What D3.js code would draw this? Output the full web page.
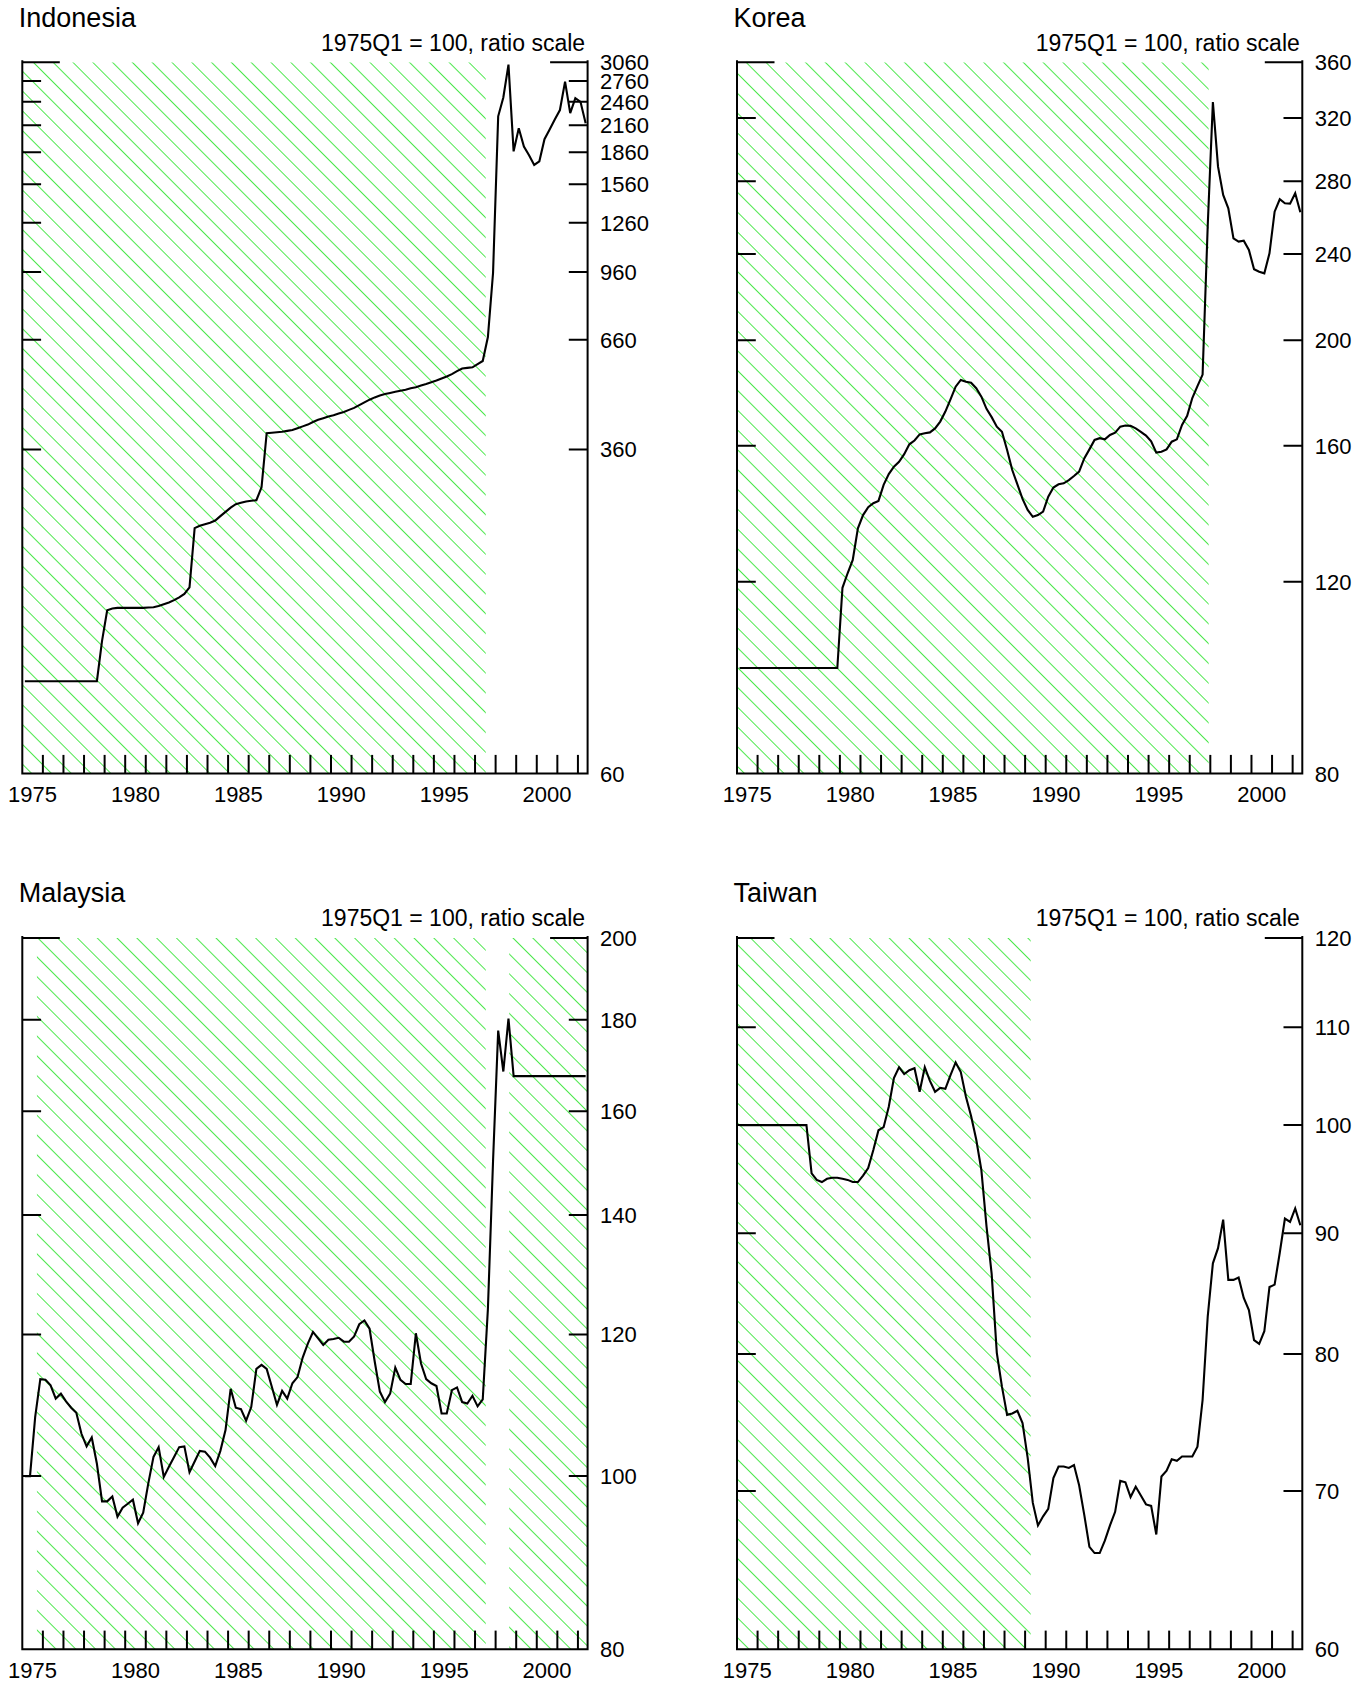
<!DOCTYPE html>
<html>
<head>
<meta charset="utf-8">
<script src="https://cdn.jsdelivr.net/npm/d3@7"></script>
<style>
  body { margin: 0; background: #fff; }
  svg { display: block; }
  text { font-family: "Liberation Sans", Arial, Helvetica, sans-serif; fill: #000; }
</style>
</head>
<body>
<svg id="chart" width="1372" height="1685"></svg>
<script>
// Quarterly exchange-rate indexes, 1975Q1 to 2002Q2 (1975Q1 = 100), one row per year.
const firstYear = 1975;

const indonesiaValues = [
  100, 100, 100, 100,
  100, 100, 100, 100,
  100, 100, 100, 100,
  100, 100, 100, 125,
  148, 149.5, 150, 150,
  150, 150, 150, 150,
  150.3, 150.5, 151.5, 153,
  154.5, 156.5, 159, 162,
  168, 233, 236, 238,
  240, 243, 249, 255,
  261, 266, 268, 270,
  271, 272, 292, 394,
  395, 396, 397, 399,
  401, 405, 409, 413,
  419, 424, 428, 432,
  435, 439, 443, 448,
  453, 460, 467, 474,
  480, 485, 489, 492,
  495, 498, 501, 505,
  508, 513, 517, 522,
  527, 533, 539, 546,
  555, 563, 565, 567,
  577, 587, 670, 955,
  2270, 2520, 3020, 1870,
  2125, 1920, 1830, 1735,
  1770, 2000, 2110, 2230,
  2350, 2750, 2310, 2510,
  2460, 2185
];

const koreaValues = [
  100, 100, 100, 100,
  100, 100, 100, 100,
  100, 100, 100, 100,
  100, 100, 100, 100,
  100, 100, 100, 100,
  118.5, 122.2, 125.7, 134.4,
  138.2, 140.5, 141.7, 142.4,
  147.3, 150.7, 153.1, 154.7,
  157.2, 160.5, 161.8, 163.9,
  164.3, 164.6, 166.0, 168.4,
  172.0, 176.5, 181.3, 183.9,
  183.2, 182.8, 180.7, 177.5,
  173.0, 170.0, 166.6, 164.8,
  158.6, 152.0, 147.5, 143.0,
  139.7, 137.7, 138.2, 139.2,
  143.7, 146.5, 147.5, 147.8,
  148.8, 150.1, 151.5, 155.8,
  158.8, 162.0, 162.6, 162.2,
  163.7, 164.5, 166.6, 167.0,
  166.9, 166.0, 164.8, 163.5,
  161.5, 157.7, 158.0, 158.8,
  161.4, 162.2, 167.2, 170.5,
  177.0, 181.5, 186.0, 255.0,
  331.0, 288.7, 272.0, 264.4,
  248.1, 246.4, 246.9, 242.1,
  232.4, 231.2, 230.4, 240.4,
  262.5, 269.5, 267.2, 267.0,
  272.9, 262.2
];

const malaysiaValues = [
  100, 100, 107.9, 113.3,
  113.2, 112.4, 110.5, 111.2,
  110.1, 109.2, 108.5, 105.6,
  103.9, 105.1, 101.6, 96.8,
  96.8, 97.4, 94.9, 96.0,
  96.5, 97.0, 94.1, 95.4,
  99.1, 102.5, 103.8, 99.9,
  101.2, 102.5, 103.8, 103.9,
  100.5, 101.9, 103.3, 103.2,
  102.4, 101.3, 103.3, 106.1,
  111.9, 109.2, 109.0, 107.4,
  109.3, 114.8, 115.4, 114.8,
  112.2, 109.6, 111.6, 110.5,
  112.7, 113.6, 116.5, 118.6,
  120.4, 119.4, 118.4, 119.2,
  119.3, 119.5, 118.9, 118.9,
  119.7, 121.6, 122.2, 120.9,
  115.9, 111.5, 110.0, 111.2,
  115.0, 113.2, 112.6, 112.6,
  120.2, 115.6, 113.3, 112.7,
  112.3, 108.4, 108.4, 111.7,
  112.1, 110.0, 109.8, 110.9,
  109.4, 110.4, 124.0, 150.0,
  177.5, 168.4, 180.3, 167.4,
  167.4, 167.4, 167.4, 167.4,
  167.4, 167.4, 167.4, 167.4,
  167.4, 167.4, 167.4, 167.4,
  167.4, 167.4
];

const taiwanValues = [
  100, 100, 100, 100,
  100, 100, 100, 100,
  100, 100, 100, 100,
  100, 100, 95.4, 94.8,
  94.6, 94.9, 95.0, 95.0,
  94.9, 94.8, 94.6, 94.6,
  95.2, 95.9, 97.6, 99.5,
  99.8, 101.8, 104.7, 105.8,
  105.1, 105.5, 105.7, 103.3,
  105.8, 104.4, 103.3, 103.7,
  103.6, 105.0, 106.3, 105.3,
  102.8, 100.9, 98.6, 95.7,
  90.6, 86.5, 80.1, 77.5,
  75.4, 75.5, 75.7, 74.8,
  72.3, 69.2, 67.7, 68.3,
  68.8, 70.9, 71.7, 71.7,
  71.6, 71.8, 70.4, 68.4,
  66.3, 65.9, 65.9, 66.7,
  67.7, 68.6, 70.7, 70.6,
  69.6, 70.3, 69.7, 69.1,
  69.0, 67.1, 71.0, 71.4,
  72.2, 72.1, 72.4, 72.4,
  72.4, 73.1, 76.5, 83.0,
  87.4, 88.7, 91.2, 86.0,
  86.0, 86.2, 84.5, 83.5,
  81.1, 80.8, 81.8, 85.4,
  85.6, 88.3, 91.3, 91.0,
  92.2, 90.7
];

// Ratio-scale tick values on the right-hand axis
const indonesiaTicks = [60, 360, 660, 960, 1260, 1560, 1860, 2160, 2460, 2760, 3060];
const koreaTicks = [80, 120, 160, 200, 240, 280, 320, 360];
const malaysiaTicks = [80, 100, 120, 140, 160, 180, 200];
const taiwanTicks = [60, 70, 80, 90, 100, 110, 120];

// Year labels under each panel
const yearLabels = [1975, 1980, 1985, 1990, 1995, 2000];

// Periods of managed / pegged exchange-rate regimes (decimal years), drawn hatched
const indonesiaRegimes = [[1975, 1997.52]];
const koreaRegimes = [[1975, 1997.92]];
const malaysiaRegimes = [[1975.71, 1997.52], [1998.66, 2002.47]];
const taiwanRegimes = [[1975, 1989.27]];

const panelTitles = ["Indonesia", "Korea", "Malaysia", "Taiwan"];
const unitNote = "1975Q1 = 100, ratio scale";

// ---- layout ----
const xDomain = [1975, 2002.47];
const plotW = 565.3, plotH = 711.3;
const colX = [22.3, 737];
const rowY = [62.3, 938];
const tickLen = 18.8, topTickLen = 37.5, xTickLen = 18.7;
const hatchColor = "#12e012";

const panels = [
  { title: panelTitles[0], values: indonesiaValues, ticks: indonesiaTicks, regimes: indonesiaRegimes, col: 0, row: 0 },
  { title: panelTitles[1], values: koreaValues, ticks: koreaTicks, regimes: koreaRegimes, col: 1, row: 0 },
  { title: panelTitles[2], values: malaysiaValues, ticks: malaysiaTicks, regimes: malaysiaRegimes, col: 0, row: 1 },
  { title: panelTitles[3], values: taiwanValues, ticks: taiwanTicks, regimes: taiwanRegimes, col: 1, row: 1 }
];

const svg = d3.select("#chart");
const defs = svg.append("defs");

// diagonal hatch, lines running from upper left to lower right
const pat = defs.append("pattern")
  .attr("id", "hatch")
  .attr("patternUnits", "userSpaceOnUse")
  .attr("width", 14)
  .attr("height", 14)
  .attr("patternTransform", "rotate(-45)");
pat.append("line")
  .attr("x1", 7).attr("y1", -2).attr("x2", 7).attr("y2", 16)
  .attr("stroke", hatchColor)
  .attr("stroke-width", 0.75)
  .attr("shape-rendering", "crispEdges");

panels.forEach((p, i) => {
  const left = colX[p.col], top = rowY[p.row];
  const right = left + plotW, bottom = top + plotH;
  const yMin = p.ticks[0], yMax = p.ticks[p.ticks.length - 1];

  const x = d3.scaleLinear().domain(xDomain).range([left, right]);
  const y = d3.scaleLog().domain([yMin, yMax]).range([bottom, top]);

  const g = svg.append("g").attr("class", "panel");

  defs.append("clipPath").attr("id", "clip" + i)
    .append("rect").attr("x", left).attr("y", top).attr("width", plotW).attr("height", plotH);

  // hatched regime periods
  g.append("g").attr("clip-path", `url(#clip${i})`)
    .selectAll("rect").data(p.regimes).join("rect")
    .attr("x", d => x(d[0]))
    .attr("y", top)
    .attr("width", d => x(d[1]) - x(d[0]))
    .attr("height", plotH)
    .attr("fill", "url(#hatch)");

  // series line: each quarter plotted at its midpoint
  const pts = p.values.map((v, k) => ({ t: firstYear + (k + 0.5) / 4, v }));
  const line = d3.line().x(d => x(d.t)).y(d => y(d.v));
  g.append("path").datum(pts)
    .attr("d", line)
    .attr("fill", "none")
    .attr("stroke", "#000")
    .attr("stroke-width", 2.1)
    .attr("stroke-linejoin", "miter");

  const axisStyle = sel => sel.attr("stroke", "#000").attr("stroke-width", 2).attr("fill", "none");

  // frame: left, right and bottom axis lines
  g.append("path")
    .attr("d", `M${left},${top - 1}V${bottom}H${right}V${top - 1}`)
    .call(axisStyle)
    .attr("stroke-linecap", "square");

  // inward ticks on both vertical axes; top tick is drawn longer
  const yt = p.ticks.slice(1);
  g.append("g").selectAll("path").data(yt).join("path")
    .attr("d", v => {
      const L = v === yMax ? topTickLen : tickLen;
      const yy = y(v);
      return `M${left},${yy}h${L}M${right},${yy}h${-L}`;
    })
    .call(axisStyle);

  // year ticks along the bottom
  const years = d3.range(1976, 2003);
  g.append("g").selectAll("path").data(years).join("path")
    .attr("d", t => `M${x(t)},${bottom}v${-xTickLen}`)
    .call(axisStyle);

  // year labels, centred on each year
  g.append("g").selectAll("text").data(yearLabels).join("text")
    .attr("x", t => x(t + 0.5))
    .attr("y", bottom + 28.7)
    .attr("text-anchor", "middle")
    .attr("font-size", 22)
    .text(t => t);

  // value labels on the right
  g.append("g").selectAll("text").data(p.ticks).join("text")
    .attr("x", right + 12.5)
    .attr("y", v => y(v))
    .attr("dy", "0.36em")
    .attr("font-size", 22)
    .text(v => v);

  // panel title and unit note
  g.append("text")
    .attr("x", left - 3.5)
    .attr("y", top - 35.6)
    .attr("font-size", 27)
    .text(p.title);
  g.append("text")
    .attr("x", right - 2.5)
    .attr("y", top - 11.6)
    .attr("text-anchor", "end")
    .attr("font-size", 23)
    .text(unitNote);
});
</script>
</body>
</html>
